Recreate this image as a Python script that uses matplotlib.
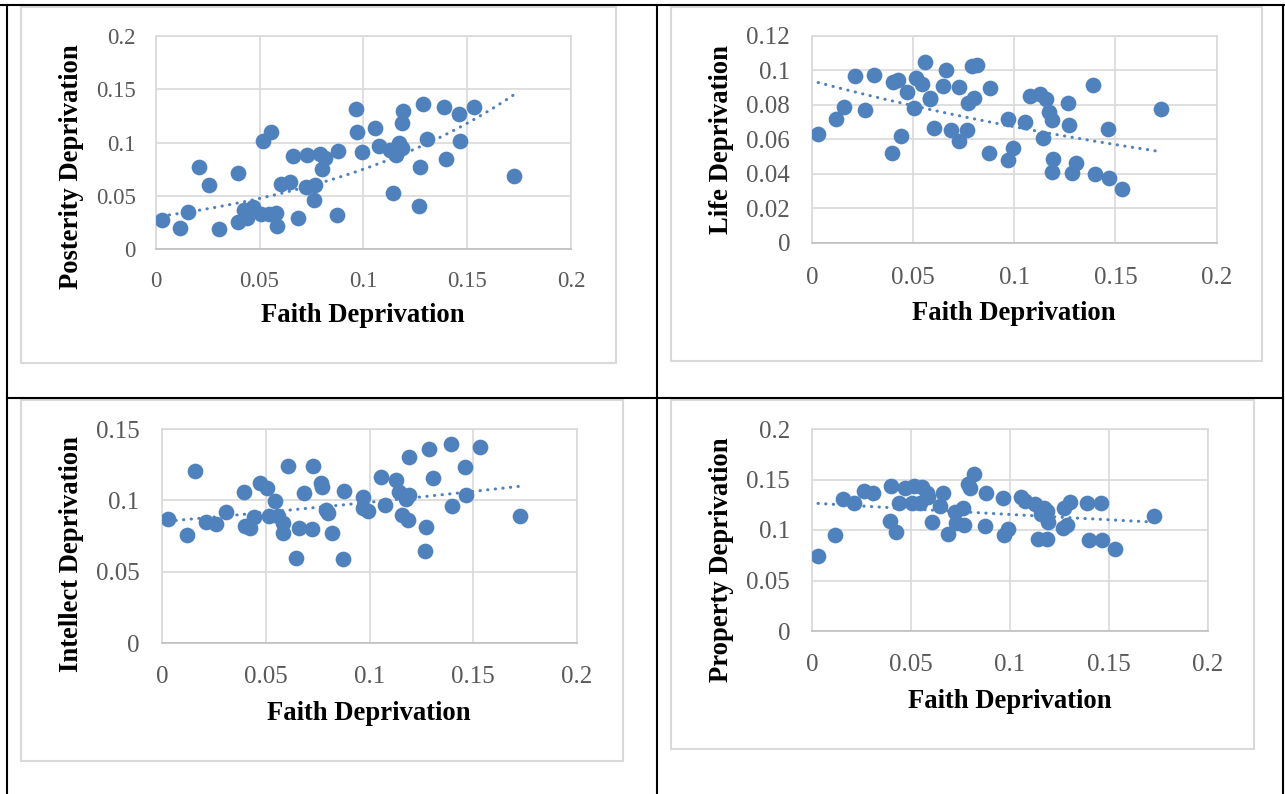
import numpy as np
import matplotlib
matplotlib.use("Agg")
import matplotlib.pyplot as plt
from matplotlib.lines import Line2D
from matplotlib.patches import Rectangle
from matplotlib.ticker import FuncFormatter

# ---------------- data ----------------
faith = [0.0029, 0.0117, 0.0157, 0.0209, 0.0259, 0.0306, 0.0394, 0.0398, 0.0424, 0.0440,
         0.0469, 0.0505, 0.0515, 0.0545, 0.0556, 0.0580, 0.0583, 0.0604, 0.0646, 0.0660,
         0.0685, 0.0724, 0.0727, 0.0764, 0.0768, 0.0789, 0.0799, 0.0817, 0.0873, 0.0878,
         0.0966, 0.0970, 0.0992, 0.1054, 0.1075, 0.1127, 0.1141, 0.1157, 0.1173, 0.1188,
         0.1192, 0.1186, 0.1266, 0.1272, 0.1287, 0.1306, 0.1390, 0.1398, 0.1462, 0.1467,
         0.1532, 0.1727]
posterity = [0.0275, 0.0203, 0.0347, 0.0775, 0.0603, 0.0194, 0.0259, 0.0713, 0.0366, 0.0293,
             0.0396, 0.0328, 0.1019, 0.0328, 0.1103, 0.0338, 0.0219, 0.0613, 0.0628, 0.0875,
             0.0291, 0.0581, 0.0884, 0.0463, 0.0603, 0.0894, 0.0750, 0.0853, 0.0322, 0.0925,
             0.1316, 0.1097, 0.0909, 0.1141, 0.0972, 0.0931, 0.0525, 0.0884, 0.0994, 0.1181,
             0.1297, 0.0950, 0.0409, 0.0775, 0.1363, 0.1031, 0.1338, 0.0844, 0.1266, 0.1019,
             0.1331, 0.0688]
life = [0.0631, 0.0716, 0.0788, 0.0970, 0.0770, 0.0974, 0.0523, 0.0931, 0.0945, 0.0620,
        0.0875, 0.0780, 0.0954, 0.0920, 0.1051, 0.0834, 0.0840, 0.0668, 0.0912, 0.1003,
        0.0654, 0.0592, 0.0906, 0.0654, 0.0809, 0.1028, 0.0838, 0.1032, 0.0523, 0.0896,
        0.0716, 0.0480, 0.0548, 0.0703, 0.0852, 0.0864, 0.0606, 0.0834, 0.0761, 0.0712,
        0.0486, 0.0412, 0.0813, 0.0683, 0.0407, 0.0461, 0.0916, 0.0399, 0.0660, 0.0374,
        0.0312, 0.0775]
intellect = [0.0868, 0.0758, 0.1206, 0.0847, 0.0835, 0.0917, 0.1062, 0.0821, 0.0805, 0.0887,
             0.1120, 0.1090, 0.0891, 0.0996, 0.0894, 0.0840, 0.0770, 0.1244, 0.0600, 0.0810,
             0.1055, 0.0798, 0.1244, 0.1120, 0.1095, 0.0933, 0.0915, 0.0770, 0.0588, 0.1069,
             0.1027, 0.0950, 0.0926, 0.1167, 0.0968, 0.1143, 0.1062, 0.0898, 0.1010, 0.1038,
             0.1302, 0.0863, 0.0649, 0.0817, 0.1360, 0.1160, 0.1393, 0.0961, 0.1237, 0.1038,
             0.1377, 0.0891]
property_ = [0.0746, 0.0950, 0.1307, 0.1264, 0.1386, 0.1370, 0.1089, 0.1439, 0.0977, 0.1264,
             0.1413, 0.1264, 0.1439, 0.1264, 0.1429, 0.1363, 0.1330, 0.1083, 0.1238, 0.1363,
             0.0957, 0.1183, 0.1068, 0.1216, 0.1051, 0.1452, 0.1413, 0.1551, 0.1040, 0.1363,
             0.1320, 0.0950, 0.1010, 0.1330, 0.1287, 0.1254, 0.0908, 0.1155, 0.1214, 0.0908,
             0.1083, 0.1190, 0.1016, 0.1214, 0.1049, 0.1280, 0.1270, 0.0901, 0.1270, 0.0901,
             0.0812, 0.1142]

x_ticks = [0, 0.05, 0.1, 0.15, 0.2]
y_ticks_posterity = [0, 0.05, 0.1, 0.15, 0.2]
y_ticks_life = [0, 0.02, 0.04, 0.06, 0.08, 0.1, 0.12]
y_ticks_intellect = [0, 0.05, 0.1, 0.15]
y_ticks_property = [0, 0.05, 0.1, 0.15, 0.2]
x_label = "Faith Deprivation"

# ---------------- styling ----------------
W, H = 1285, 794
BLUE = "#4F81BD"
GRID = "#D9D9D9"
TICKC = "#595959"
SERIF = ["Liberation Serif", "DejaVu Serif"]
plt.rcParams["font.family"] = SERIF

fig = plt.figure(figsize=(W / 100, H / 100), dpi=100)


def fr(l, t, r, b):
    return [l / W, 1 - b / H, (r - l) / W, (b - t) / H]


def fx(px):
    return px / W


def fy(py):
    return 1 - py / H


fmt = FuncFormatter(lambda v, p: "0" if v == 0 else f"{v:g}")

LFS = 19.2
panels = [
    dict(y=posterity, yt=y_ticks_posterity, yl="Posterity Deprivation",
         box=(21, 7, 616, 363), plot=(155.7, 36, 571, 249.3), tfs=16.5,
         xpad=15.5, ypad=14.5, xlab=(363, 315), ylab=(71, 167)),
    dict(y=life, yt=y_ticks_life, yl="Life Deprivation",
         box=(671, 7, 1262, 361), plot=(812.3, 36, 1216.5, 242.7), tfs=18,
         xpad=17.5, ypad=16, xlab=(1014, 313), ylab=(721, 139)),
    dict(y=intellect, yt=y_ticks_intellect, yl="Intellect Deprivation",
         box=(21, 400, 623, 761), plot=(162.3, 429, 577, 643.3), tfs=18,
         xpad=16.5, ypad=16.5, xlab=(369, 713), ylab=(72, 554)),
    dict(y=property_, yt=y_ticks_property, yl="Property Deprivation",
         box=(671, 400, 1254, 749), plot=(812.3, 429, 1207.7, 631), tfs=18,
         xpad=16.5, ypad=16, xlab=(1010, 701), ylab=(721, 560)),
]

xs_arr = np.array(faith)
for p in panels:
    # Excel chart-area box
    l, t, r, b = p["box"]
    fig.add_artist(Rectangle((fx(l), fy(b)), fx(r) - fx(l), fy(t) - fy(b),
                             transform=fig.transFigure, fill=False,
                             edgecolor=GRID, lw=1.5))
    ax = fig.add_axes(fr(*p["plot"]))
    ys = np.array(p["y"])
    ax.scatter(xs_arr, ys, s=128, color=BLUE, linewidths=0, zorder=3)
    # exponential trendline fitted to the data
    bcoef, lna = np.polyfit(xs_arr, np.log(ys), 1)
    xx = np.linspace(xs_arr.min(), xs_arr.max(), 200)
    ax.plot(xx, np.exp(lna + bcoef * xx), color=BLUE, lw=2.2,
            linestyle=(0, (0.1, 2.4)), dash_capstyle="round", zorder=4)
    ax.set_xlim(0, 0.2)
    ax.set_ylim(0, p["yt"][-1])
    ax.set_xticks(x_ticks)
    ax.set_yticks(p["yt"])
    ax.xaxis.set_major_formatter(fmt)
    ax.yaxis.set_major_formatter(fmt)
    ax.grid(True, color=GRID, lw=1.2)
    ax.set_axisbelow(True)
    for s in ax.spines.values():
        s.set_color(GRID)
        s.set_linewidth(1.2)
    ax.spines["bottom"].set_color("#BFBFBF")
    ax.tick_params(axis="both", length=0, colors=TICKC, labelsize=p["tfs"])
    ax.tick_params(axis="x", pad=p["xpad"])
    ax.tick_params(axis="y", pad=p["ypad"])
    fig.text(fx(p["xlab"][0]), fy(p["xlab"][1]), x_label, ha="center", va="center",
             fontsize=LFS, fontweight="bold", color="black")
    fig.text(fx(p["ylab"][0]), fy(p["ylab"][1]), p["yl"], ha="center", va="center",
             rotation=90, fontsize=LFS, fontweight="bold", color="black")

# table borders
for (x0, y0, x1, y1) in [(0, 5, W, 5), (7, 5, 7, H), (657, 5, 657, H),
                         (7, 398, 1283, 398), (1283, 5, 1283, H)]:
    fig.add_artist(Line2D([fx(x0), fx(x1)], [fy(y0), fy(y1)],
                          transform=fig.transFigure, color="black", lw=1.5))

fig.savefig("out.png", dpi=100)
